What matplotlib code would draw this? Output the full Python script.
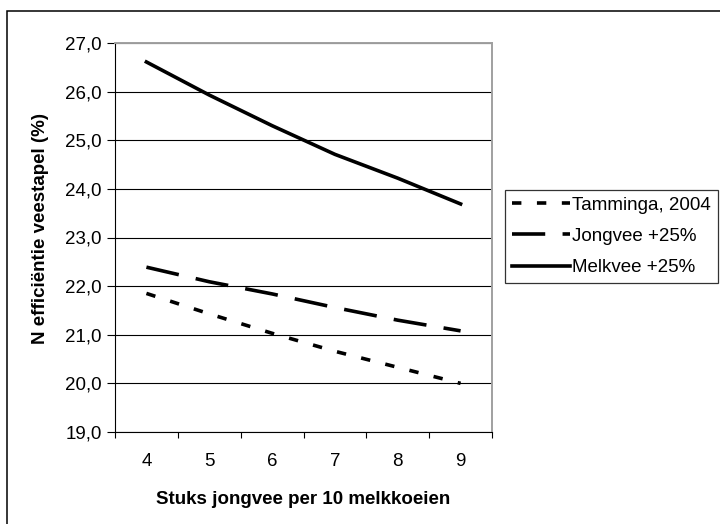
import matplotlib.pyplot as plt
from matplotlib.patches import Rectangle
from matplotlib.ticker import FuncFormatter, FixedLocator

plt.rcParams['font.family'] = ['Liberation Sans', 'DejaVu Sans']

# data
stuks = [4, 5, 6, 7, 8, 9]
tamminga = [21.85, 21.43, 21.03, 20.66, 20.33, 20.0]
jongvee = [22.39, 22.09, 21.84, 21.56, 21.30, 21.08]
melkvee = [26.61, 25.93, 25.3, 24.71, 24.22, 23.69]
labels = ["Tamminga, 2004", "Jongvee +25%", "Melkvee +25%"]

fs = 13.5
fig = plt.figure(figsize=(7.2, 5.24), dpi=100)
ax = fig.add_axes([115 / 720, 1 - 432 / 524, 377 / 720, 389 / 524])

lw = 2.6
ax.plot(stuks, tamminga, color="black", lw=lw, dashes=(2.6, 4.3), label=labels[0])
ax.plot(stuks, jongvee, color="black", lw=lw, dashes=(9.2, 4.8), label=labels[1])
ax.plot(stuks, melkvee, color="black", lw=lw, label=labels[2])

ax.set_ylim(19, 27)
ax.set_xlim(3.5, 9.5)
ax.set_yticks(range(19, 28))
ax.yaxis.set_major_formatter(FuncFormatter(lambda v, p: f"{v:.1f}".replace(".", ",")))
ax.grid(axis="y", color="black", lw=0.8)
ax.set_axisbelow(True)

ax.set_xticks(stuks)
ax.xaxis.set_minor_locator(FixedLocator([3.5 + i for i in range(7)]))
ax.tick_params(axis="x", which="major", length=0, labelsize=fs, pad=15)
ax.tick_params(axis="x", which="minor", length=4.5, direction="out", width=0.8)
ax.tick_params(axis="y", length=5.5, direction="out", width=0.8, labelsize=fs, pad=4)

for s in ["top", "right"]:
    ax.spines[s].set_color("#a0a0a0")
    ax.spines[s].set_linewidth(1.4)
for s in ["left", "bottom"]:
    ax.spines[s].set_color("black")

ax.set_xlabel("Stuks jongvee per 10 melkkoeien", fontsize=fs, fontweight="bold", labelpad=15)
ax.set_ylabel("N efficiëntie veestapel (%)", fontsize=fs, fontweight="bold")
ax.yaxis.set_label_coords(-0.175, 0.524)

leg = fig.legend(loc="upper left", bbox_to_anchor=(505 / 720, 1 - 190 / 524), frameon=True,
                 fancybox=False, edgecolor="black", fontsize=fs, handlelength=3.1,
                 handletextpad=0.15, borderpad=0.35, labelspacing=0.75, borderaxespad=0)
leg.get_frame().set_linewidth(0.9)

fig.patches.append(Rectangle((7 / 720, -0.1), 1.1, 1.1 - 11 / 524, transform=fig.transFigure,
                             fill=False, edgecolor="black", lw=1.1))

fig.savefig("out.png", dpi=100)
